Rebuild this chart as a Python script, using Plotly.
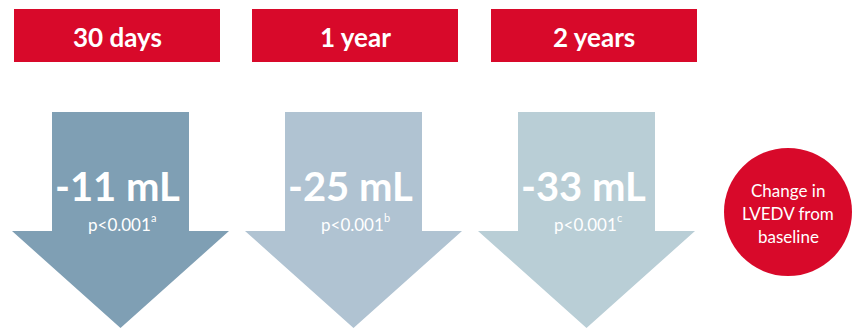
import plotly.graph_objects as go

# Time points and LVEDV change from baseline
periods = ["30 days", "1 year", "2 years"]
changes_ml = [-11, -25, -33]
p_labels = ["p<0.001", "p<0.001", "p<0.001"]
footnotes = ["a", "b", "c"]
arrow_colors = ["#7f9fb4", "#b0c3d2", "#b9ced6"]
legend_lines = ["Change in", "LVEDV from", "baseline"]

RED = "#d8092a"
W, H = 854, 329

# layout geometry (pixel space)
header_centers = [117, 355, 594]
header_w, header_top, header_bot = 206, 9, 62
arrow_centers = [120.5, 353.5, 586.5]
shaft_half, head_half = 68.5, 108.5
arrow_top, head_y, tip_y = 112, 231, 328
circle_cx, circle_cy, circle_r = 788, 212, 64
legend_line_gap = 23
p_text_right = 31  # right edge of the p-value text, relative to arrow centre

FONT = "Lato"

fig = go.Figure()
shapes = []
annotations = []

for i, period in enumerate(periods):
    hc = header_centers[i]
    shapes.append(dict(type="rect", xref="x", yref="y",
                       x0=hc - header_w / 2, x1=hc + header_w / 2,
                       y0=header_top, y1=header_bot,
                       fillcolor=RED, line=dict(width=0), layer="below"))
    annotations.append(dict(x=hc, y=(header_top + header_bot) / 2 + 1,
                            xref="x", yref="y", text="<b>%s</b>" % period,
                            showarrow=False,
                            font=dict(family=FONT, size=26, color="white")))

    ac = arrow_centers[i]
    xs = [ac - shaft_half, ac + shaft_half, ac + shaft_half, ac + head_half,
          ac, ac - head_half, ac - shaft_half, ac - shaft_half]
    ys = [arrow_top, arrow_top, head_y, head_y, tip_y, head_y, head_y, arrow_top]
    fig.add_trace(go.Scatter(x=xs, y=ys, mode="lines", fill="toself",
                             fillcolor=arrow_colors[i],
                             line=dict(width=0, color=arrow_colors[i]),
                             hoverinfo="skip", showlegend=False))

    annotations.append(dict(x=ac - 3, y=186, xref="x", yref="y",
                            text="<b>%d mL</b>" % changes_ml[i],
                            showarrow=False,
                            font=dict(family=FONT, size=40, color="white")))
    annotations.append(dict(x=ac + p_text_right, y=224, xref="x", yref="y",
                            xanchor="right", text=p_labels[i],
                            showarrow=False, borderpad=0,
                            font=dict(family=FONT, size=17, color="white")))
    annotations.append(dict(x=ac + p_text_right - 2, y=217, xref="x", yref="y",
                            xanchor="left", text=footnotes[i],
                            showarrow=False, borderpad=0,
                            font=dict(family=FONT, size=11, color="white")))

shapes.append(dict(type="circle", xref="x", yref="y",
                   x0=circle_cx - circle_r, x1=circle_cx + circle_r,
                   y0=circle_cy - circle_r, y1=circle_cy + circle_r,
                   fillcolor=RED, line=dict(width=0)))
for j, line in enumerate(legend_lines):
    annotations.append(dict(x=circle_cx, y=circle_cy + 1 + (j - 1) * legend_line_gap,
                            xref="x", yref="y", text=line, showarrow=False,
                            font=dict(family=FONT, size=17, color="white")))

fig.update_layout(
    width=W, height=H,
    margin=dict(l=0, r=0, t=0, b=0),
    paper_bgcolor="white", plot_bgcolor="white",
    xaxis=dict(range=[0, W], visible=False, fixedrange=True),
    yaxis=dict(range=[H, 0], visible=False, fixedrange=True),
    shapes=shapes, annotations=annotations,
    showlegend=False,
)

fig.write_html("out.html")
